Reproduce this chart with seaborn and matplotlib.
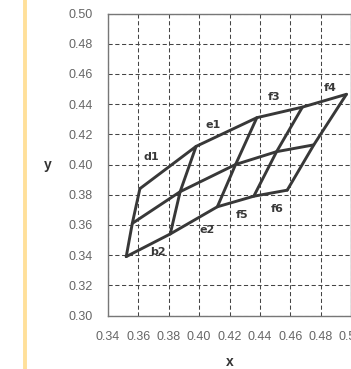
import matplotlib
matplotlib.use("Agg")
import matplotlib.pyplot as plt
from matplotlib.lines import Line2D
import seaborn as sns
import pandas as pd

# mesh points, three rows of five nodes
bottom_x = [0.352, 0.381, 0.412, 0.436, 0.458]
bottom_y = [0.339, 0.354, 0.372, 0.379, 0.383]
mid_x = [0.356, 0.3875, 0.424, 0.451, 0.4755]
mid_y = [0.361, 0.382, 0.400, 0.4085, 0.413]
top_x = [0.361, 0.398, 0.438, 0.468, 0.497]
top_y = [0.384, 0.412, 0.431, 0.438, 0.4465]

label_text = ['d1', 'e1', 'f3', 'f4', 'b2', 'e2', 'f5', 'f6']
label_x = [0.3688, 0.4095, 0.4491, 0.4865, 0.3732, 0.4051, 0.4283, 0.4513]
label_y = [0.4052, 0.4262, 0.4449, 0.4505, 0.3423, 0.3566, 0.3666, 0.3703]

x_ticks = [0.34, 0.36, 0.38, 0.40, 0.42, 0.44, 0.46, 0.48, 0.50]
y_ticks = [0.30, 0.32, 0.34, 0.36, 0.38, 0.40, 0.42, 0.44, 0.46, 0.48, 0.50]

sns.set_style("white")
plt.rcParams['font.family'] = ['Liberation Sans', 'DejaVu Sans']

fig = plt.figure(figsize=(3.51, 3.69), dpi=100)
ax = fig.add_axes([108 / 351, 53.5 / 369, 243 / 351, 302 / 369])

line_color = '#383838'
rows = [(bottom_x, bottom_y), (mid_x, mid_y), (top_x, top_y)]
for xs, ys in rows:
    df = pd.DataFrame({'x': xs, 'y': ys})
    sns.lineplot(data=df, x='x', y='y', sort=False, estimator=None,
                 color=line_color, linewidth=2.1, ax=ax)
for i in range(len(bottom_x)):
    df = pd.DataFrame({'x': [bottom_x[i], mid_x[i], top_x[i]],
                       'y': [bottom_y[i], mid_y[i], top_y[i]]})
    sns.lineplot(data=df, x='x', y='y', sort=False, estimator=None,
                 color=line_color, linewidth=2.1, ax=ax)

for t, lx, ly in zip(label_text, label_x, label_y):
    ax.text(lx, ly, t, ha='center', va='center', fontsize=8,
            fontweight='bold', color='#383838', family='DejaVu Sans')

ax.set_xlim(0.34, 0.50)
ax.set_ylim(0.30, 0.50)
ax.set_xticks(x_ticks)
ax.set_yticks(y_ticks)
ax.set_xticklabels([f'{v:.2f}' for v in x_ticks])
ax.set_yticklabels([f'{v:.2f}' for v in y_ticks])
ax.tick_params(length=0, pad=11, labelsize=9, labelcolor='#666666')
ax.grid(True, linestyle=(0, (4, 2.5)), color='#444444', linewidth=0.75)
for s in ax.spines.values():
    s.set_color('#777777')
    s.set_linewidth(1.0)

ax.set_xlabel('x', fontsize=10, fontweight='bold', color='#333333', labelpad=9)
ax.set_ylabel('y', fontsize=10, fontweight='bold', color='#333333',
              rotation=0, labelpad=15, va='center')

fig.add_artist(Line2D([25 / 351, 25 / 351], [0, 1], color='#ffe09a', linewidth=2.8))

fig.savefig('out.png', dpi=100)
